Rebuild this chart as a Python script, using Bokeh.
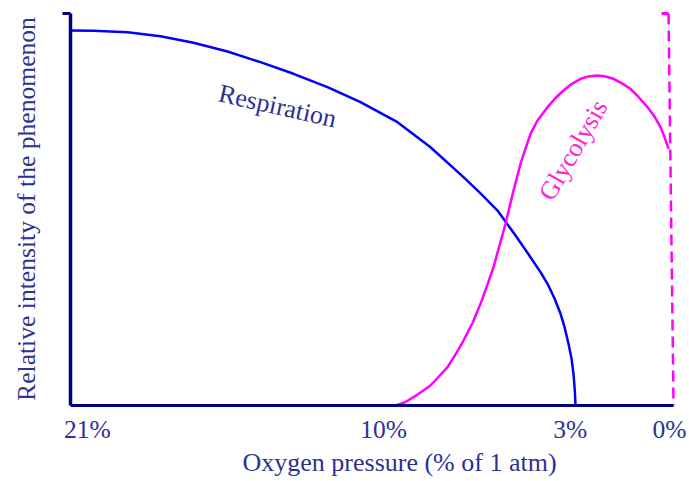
from bokeh.plotting import figure
from bokeh.models import Range1d, FixedTicker, Label, Title
from bokeh.embed import file_html
from bokeh.resources import INLINE

# ---- data (x: axis position 0..100 from 21% O2 to 0% O2; y: relative intensity 0..100) ----
resp_x = [0, 3.82, 9.47, 14.95, 20.43, 26.08, 31.56, 37.04, 42.69, 48.17, 54.32, 59.80,
          65.28, 68.11, 70.93, 73.75, 76.41, 78.07, 79.24, 80.40, 81.40, 82.06, 82.72,
          83.22, 83.55, 83.77, 83.89]
resp_y = [95.66, 95.59, 95.23, 94.21, 92.53, 90.31, 87.58, 84.62, 81.20, 77.37, 72.27, 65.89,
          58.24, 54.13, 49.74, 43.75, 37.83, 34.01, 31.05, 27.30, 23.39, 20.03, 15.74,
          11.99, 8.09, 3.83, 0]

glyc_x = [53.99, 55.48, 56.98, 58.31, 59.80, 61.13, 62.62, 63.95, 65.28, 66.78, 68.11, 69.27,
          70.27, 71.26, 72.26, 72.92, 73.59, 74.09, 74.75, 75.42, 76.41, 77.57, 79.24, 80.56,
          81.89, 83.22, 84.72, 86.05, 87.54, 88.87, 90.20, 91.53, 93.02, 94.35, 95.85, 97.01,
          98.01, 98.67, 99.34]
glyc_y = [0, 0.77, 2.12, 3.49, 5.10, 7.27, 9.77, 13.01, 16.58, 21.05, 25.94, 30.87,
          35.28, 40.82, 46.35, 50.61, 54.85, 57.76, 61.66, 64.80, 69.31, 72.70, 76.10, 78.44,
          80.36, 81.99, 83.34, 83.95, 84.18, 83.93, 83.34, 82.24, 80.79, 78.70, 76.10, 73.72,
          70.99, 68.49, 65.48]

# dashed limit at 0 % O2
zero_x = [99.34, 100.17]
zero_y = [100, 0]
zero_tick_x = [98.17, 99.34]
zero_tick_y = [100, 100]

tick_pos = [2.8, 52, 83, 99.5]
tick_labels = ["21%", "10%", "3%", "0%"]

FONT = "Liberation Serif"
TXT = "#2E3192"
NAVY = "#000080"
BLUE = "#0000FF"
MAG = "#FF00FF"

p = figure(width=689, height=481,
           x_range=Range1d(-1.661, 102.82), y_range=Range1d(-0.51, 100.765),
           output_backend="svg", toolbar_location=None,
           min_border_left=60, min_border_right=0, min_border_top=10, min_border_bottom=74)
p.grid.visible = False
p.outline_line_color = None
p.background_fill_color = "white"
p.border_fill_color = "white"

p.line(resp_x, resp_y, line_color=BLUE, line_width=2.5, line_join="round")
p.line(glyc_x, glyc_y, line_color=MAG, line_width=2.5, line_join="round")
p.line(zero_x, zero_y, line_color=MAG, line_width=2.5, line_dash="11 6")
p.line(zero_tick_x, zero_tick_y, line_color=MAG, line_width=3)

# drawn axis frame lines (left with top tick, bottom)
p.line([0, 0], [0, 100], line_color=NAVY, line_width=3.5)
p.line([-1.33, 0], [100, 100], line_color=NAVY, line_width=3)
p.line([0, 100.17], [0, 0], line_color=NAVY, line_width=3)

# x axis: tick labels
xa = p.xaxis[0]
xa.ticker = FixedTicker(ticks=tick_pos)
xa.major_label_overrides = {t: l for t, l in zip(tick_pos, tick_labels)}
xa.axis_line_color = None
xa.major_tick_line_color = None
xa.major_tick_out = 0
xa.major_tick_in = 0
xa.minor_tick_line_color = None
xa.major_label_text_font = FONT
xa.major_label_text_font_size = "25.5px"
xa.major_label_text_color = TXT
xa.major_label_standoff = 7

# x title (placed below the axis, shifted right like the reference)
p.add_layout(Title(text="Oxygen pressure (% of 1 atm)", align="left", offset=182,
                   vertical_align="middle", standoff=0,
                   text_font=FONT, text_font_size="26px", text_font_style="normal",
                   text_color=TXT), "below")

# y axis: title only
ya = p.yaxis[0]
ya.ticker = FixedTicker(ticks=[])
ya.axis_line_color = None
ya.major_tick_line_color = None
ya.major_tick_out = 0
ya.major_tick_in = 0
ya.minor_tick_line_color = None
ya.major_label_standoff = 0
ya.axis_label = "Relative intensity of the phenomenon"
ya.axis_label_text_font = FONT
ya.axis_label_text_font_size = "25.6px"
ya.axis_label_text_font_style = "normal"
ya.axis_label_text_color = TXT
ya.axis_label_standoff = 20

p.add_layout(Label(x=34.38, y=76.4, text="Respiration", angle=-0.222,
                   text_font=FONT, text_font_size="26px", text_color=TXT,
                   text_align="center", text_baseline="middle"))
p.add_layout(Label(x=83.5, y=65.15, text="Glycolysis", angle=1.047,
                   text_font=FONT, text_font_size="26px", text_color="#FF22DD",
                   text_align="center", text_baseline="middle"))

open("out.html", "w").write(file_html(p, INLINE))
